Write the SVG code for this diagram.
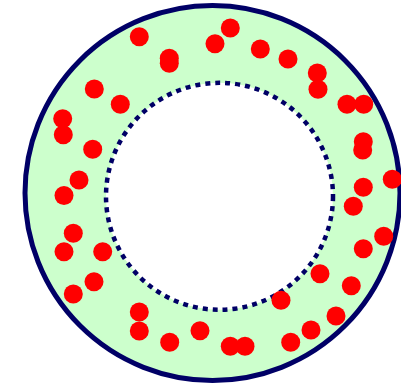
<svg xmlns="http://www.w3.org/2000/svg" width="401" height="386" viewBox="0 0 401 386">
<style>
.ring{fill:#ccffcc;stroke:#000066;stroke-width:5}
.hole{fill:#ffffff;stroke:#000066;stroke-width:4.5;stroke-dasharray:5 5}
.d{fill:#ff0000}
</style>
<rect width="401" height="386" fill="#ffffff"/>
<g id="outer"><circle class="ring" cx="212.5" cy="193" r="187.5"/></g>
<g id="inner"><circle class="hole" cx="219.5" cy="196.3" r="113.5"/></g>
<g id="dots">
<circle class="d" cx="139.3" cy="36.7" r="9.5"/>
<circle class="d" cx="169.3" cy="58.3" r="9.5"/>
<circle class="d" cx="169.3" cy="63.3" r="9.5"/>
<circle class="d" cx="94.3" cy="89" r="9.5"/>
<circle class="d" cx="120.3" cy="104.3" r="9.5"/>
<circle class="d" cx="62.7" cy="118.7" r="9.5"/>
<circle class="d" cx="63.3" cy="134.7" r="9.5"/>
<circle class="d" cx="92.7" cy="149.3" r="9.5"/>
<circle class="d" cx="79" cy="180" r="9.5"/>
<circle class="d" cx="64" cy="195.5" r="9.5"/>
<circle class="d" cx="230.3" cy="28" r="9.5"/>
<circle class="d" cx="215" cy="43.7" r="9.5"/>
<circle class="d" cx="260.3" cy="49" r="9.5"/>
<circle class="d" cx="288" cy="59" r="9.5"/>
<circle class="d" cx="317.3" cy="73" r="9.5"/>
<circle class="d" cx="318" cy="89.3" r="9.5"/>
<circle class="d" cx="347" cy="104.3" r="9.5"/>
<circle class="d" cx="363.7" cy="104.3" r="9.5"/>
<circle class="d" cx="363.3" cy="141.7" r="9.5"/>
<circle class="d" cx="362.7" cy="150" r="9.5"/>
<circle class="d" cx="392.3" cy="179.3" r="9.5"/>
<circle class="d" cx="363.3" cy="187.3" r="9.5"/>
<circle class="d" cx="73.3" cy="233.3" r="9.5"/>
<circle class="d" cx="64" cy="251.7" r="9.5"/>
<circle class="d" cx="102.7" cy="251.7" r="9.5"/>
<circle class="d" cx="94" cy="281.7" r="9.5"/>
<circle class="d" cx="73.3" cy="294" r="9.5"/>
<circle class="d" cx="139.3" cy="312" r="9.5"/>
<circle class="d" cx="139.3" cy="331" r="9.5"/>
<circle class="d" cx="169.7" cy="342.3" r="9.5"/>
<circle class="d" cx="200" cy="330.7" r="9.5"/>
<circle class="d" cx="353.3" cy="206.3" r="9.5"/>
<circle class="d" cx="383.7" cy="236.3" r="9.5"/>
<circle class="d" cx="363.3" cy="248.7" r="9.5"/>
<circle class="d" cx="320" cy="273.7" r="9.5"/>
<circle class="d" cx="351.3" cy="285.7" r="9.5"/>
<circle class="d" cx="281" cy="300.3" r="9.5"/>
<circle class="d" cx="336" cy="316" r="9.5"/>
<circle class="d" cx="311" cy="330" r="9.5"/>
<circle class="d" cx="230.3" cy="346.3" r="9.5"/>
<circle class="d" cx="245" cy="346.3" r="9.5"/>
<circle class="d" cx="290.7" cy="342.3" r="9.5"/>
</g>
</svg>
